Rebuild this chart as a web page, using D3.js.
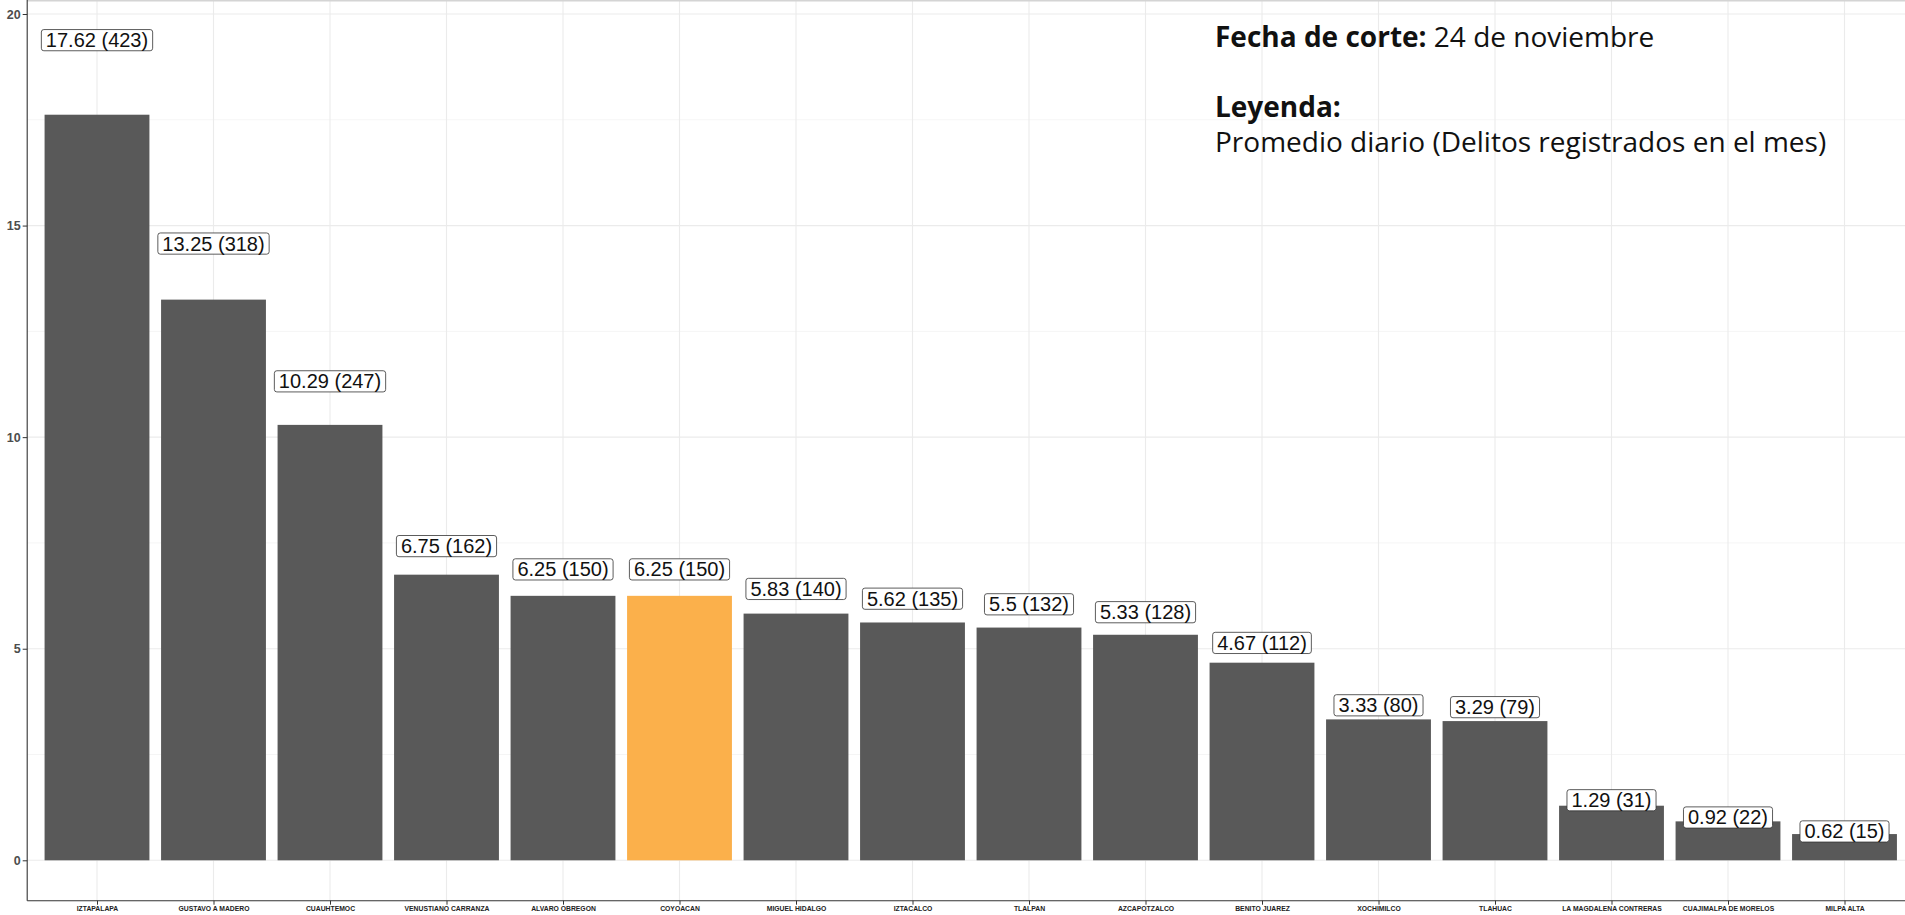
<!DOCTYPE html>
<html>
<head>
<meta charset="utf-8">
<script src="https://cdn.jsdelivr.net/npm/d3@7"></script>
<style>
  html, body { margin: 0; padding: 0; background: #ffffff; }
  svg { display: block; }
</style>
</head>
<body>
<svg id="chart" width="1905" height="915"></svg>
<script>
const categories = ["IZTAPALAPA","GUSTAVO A MADERO","CUAUHTEMOC","VENUSTIANO CARRANZA","ALVARO OBREGON","COYOACAN","MIGUEL HIDALGO","IZTACALCO","TLALPAN","AZCAPOTZALCO","BENITO JUAREZ","XOCHIMILCO","TLAHUAC","LA MAGDALENA CONTRERAS","CUAJIMALPA DE MORELOS","MILPA ALTA"];
const promedio = [17.62,13.25,10.29,6.75,6.25,6.25,5.83,5.62,5.5,5.33,4.67,3.33,3.29,1.29,0.92,0.62];
const delitos = [423,318,247,162,150,150,140,135,132,128,112,80,79,31,22,15];
const highlighted = ["COYOACAN"];
const yTicks = [0,5,10,15,20];
const yMinor = [2.5,7.5,12.5,17.5];
const fechaLabel = "Fecha de corte:";
const fechaValue = " 24 de noviembre";
const leyendaTitle = "Leyenda:";
const leyendaText = "Promedio diario (Delitos registrados en el mes)";

const svg = d3.select("#chart");
const W = 1905, H = 915;
const panel = {left: 27.2, top: 0, right: W + 10, bottom: 900.7};

const x = d3.scalePoint().domain(categories).range([97, 1844.5]);
const step = x.step();
const barW = step * 0.9;
const y = d3.scaleLinear().domain([0, 20]).range([860.3, 14]);

const data = categories.map((c, i) => ({cat: c, v: promedio[i], n: delitos[i]}));

// gridlines
const grid = svg.append("g");
grid.selectAll("line.minor").data(yMinor).join("line")
  .attr("x1", panel.left).attr("x2", panel.right)
  .attr("y1", d => y(d)).attr("y2", d => y(d))
  .attr("stroke", "#f2f2f2").attr("stroke-width", 0.8);
grid.selectAll("line.major").data(yTicks).join("line")
  .attr("x1", panel.left).attr("x2", panel.right)
  .attr("y1", d => y(d)).attr("y2", d => y(d))
  .attr("stroke", "#ebebeb").attr("stroke-width", 1.1);
grid.selectAll("line.v").data(categories).join("line")
  .attr("x1", d => x(d)).attr("x2", d => x(d))
  .attr("y1", panel.top).attr("y2", panel.bottom)
  .attr("stroke", "#ebebeb").attr("stroke-width", 1.1);
// top border (panel)
svg.append("line").attr("x1", panel.left).attr("x2", W).attr("y1", 0.7).attr("y2", 0.7)
  .attr("stroke", "#d4d4d4").attr("stroke-width", 1.4);

// bars
svg.append("g").selectAll("rect").data(data).join("rect")
  .attr("x", d => x(d.cat) - barW / 2)
  .attr("width", barW)
  .attr("y", d => y(d.v))
  .attr("height", d => y(0) - y(d.v))
  .attr("fill", d => highlighted.includes(d.cat) ? "#fbb04b" : "#595959");

// axes
const yAxis = d3.axisLeft(y).tickValues(yTicks).tickSize(4.5).tickPadding(2).tickFormat(d3.format("d"));
const gy = svg.append("g").attr("transform", `translate(${panel.left},0)`).call(yAxis);
gy.select(".domain").remove();
gy.selectAll(".tick line").attr("stroke", "#333333").attr("stroke-width", 1);
gy.selectAll(".tick text").attr("fill", "#4d4d4d").attr("font-family", "'Liberation Sans', Arial, sans-serif")
  .attr("font-size", 12.5).attr("font-weight", "bold");
svg.append("line").attr("x1", panel.left).attr("x2", panel.left).attr("y1", panel.top).attr("y2", panel.bottom)
  .attr("stroke", "#333333").attr("stroke-width", 1.1);

const xAxis = d3.axisBottom(x).tickSize(4).tickPadding(1.5);
const gx = svg.append("g").attr("transform", `translate(0,${panel.bottom})`).call(xAxis);
gx.select(".domain").remove();
gx.selectAll(".tick line").attr("stroke", "#333333").attr("stroke-width", 1);
gx.selectAll(".tick text").attr("fill", "#222222").attr("font-family", "'Liberation Sans', Arial, sans-serif")
  .attr("font-size", 6.8).attr("font-weight", "bold");
svg.append("line").attr("x1", panel.left).attr("x2", W).attr("y1", panel.bottom).attr("y2", panel.bottom)
  .attr("stroke", "#333333").attr("stroke-width", 1.1);

// labels
const lab = svg.append("g").selectAll("g").data(data).join("g")
  .attr("transform", d => `translate(${x(d.cat)},${y(d.v * 1.1)})`);
const txt = lab.append("text")
  .attr("text-anchor", "middle")
  .attr("y", 7)
  .attr("font-family", "'Liberation Sans', Arial, sans-serif")
  .attr("font-size", 20)
  .attr("fill", "#111111")
  .text(d => `${d.v} (${d.n})`);
lab.each(function() {
  const g = d3.select(this);
  const w = g.select("text").node().getComputedTextLength();
  g.insert("rect", "text")
    .attr("x", -w / 2 - 4.5).attr("width", w + 9)
    .attr("y", -10.6).attr("height", 21.2)
    .attr("rx", 2.5).attr("ry", 2.5)
    .attr("fill", "#ffffff").attr("stroke", "#333333").attr("stroke-width", 0.8);
});

// legend text
const lg = svg.append("g").attr("font-family", "'Open Sans', 'Noto Sans', sans-serif").attr("font-size", 28).attr("fill", "#111111");
const t1 = lg.append("text").attr("x", 1215).attr("y", 46.7);
t1.append("tspan").attr("font-weight", "bold").text(fechaLabel);
t1.append("tspan").text(fechaValue);
lg.append("text").attr("x", 1215).attr("y", 117.3).attr("font-weight", "bold").text(leyendaTitle);
lg.append("text").attr("x", 1215).attr("y", 151.7).text(leyendaText);
</script>
</body>
</html>
